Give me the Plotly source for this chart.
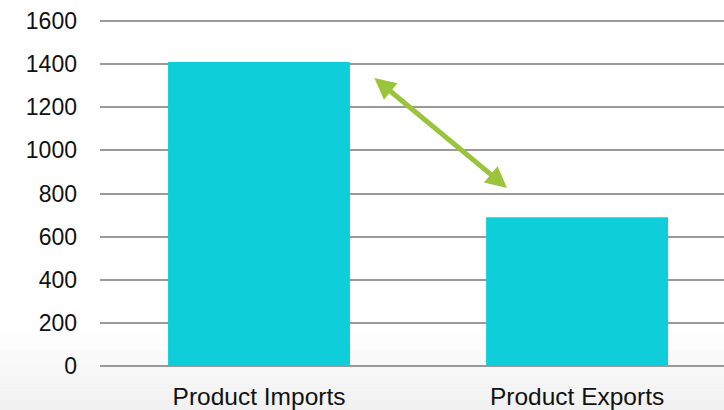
import plotly.graph_objects as go

# Trade values by category
categories = ["Product Imports", "Product Exports"]
values = [1410, 690]
y_ticks = [0, 200, 400, 600, 800, 1000, 1200, 1400, 1600]

BAR_COLOR = "#0ECFD9"
ARROW_COLOR = "#9BC43C"
GRID_COLOR = "#9a9a9a"
FONT = "Liberation Sans"

fig = go.Figure(
    go.Bar(
        x=categories,
        y=values,
        marker=dict(color=BAR_COLOR, line=dict(width=0)),
        hoverinfo="x+y",
    )
)

# Soft grey fade along the bottom of the slide
bands = 12
top_px, bottom_px, plot_bottom_px, plot_h = 330, 410, 365.5, 345
for i in range(bands):
    y0 = (plot_bottom_px - (top_px + (bottom_px - top_px) * i / bands)) / plot_h
    y1 = (plot_bottom_px - (top_px + (bottom_px - top_px) * (i + 1) / bands)) / plot_h
    g = int(255 - (255 - 241) * (i + 0.5) / bands)
    fig.add_shape(
        type="rect", xref="paper", yref="paper",
        x0=-0.2, x1=1.2, y0=y0, y1=y1,
        fillcolor=f"rgb({g},{g},{g})", line=dict(width=0), layer="below",
    )

# Double-headed arrow highlighting the gap between imports and exports
fig.add_annotation(
    x=0.78, y=826, xref="x", yref="y",
    ax=0.358, ay=1342, axref="x", ayref="y",
    text="", showarrow=True,
    arrowhead=2, startarrowhead=2, arrowside="end+start",
    arrowsize=0.85, startarrowsize=0.85, arrowwidth=5,
    arrowcolor=ARROW_COLOR,
)

fig.update_layout(
    width=724, height=410,
    margin=dict(l=100, r=0, t=20, b=44),
    paper_bgcolor="white",
    plot_bgcolor="rgba(0,0,0,0)",
    bargap=0.428,
    showlegend=False,
    font=dict(family=FONT, size=23, color="#111111"),
)
fig.update_xaxes(
    range=[-0.5, 1.462],
    showgrid=False, showline=False, zeroline=False,
    ticks="", tickfont=dict(size=24.5, family=FONT),
    ticklabelstandoff=13,
)
fig.update_yaxes(
    range=[0, 1605],
    tickvals=y_ticks,
    showgrid=True, gridcolor=GRID_COLOR, gridwidth=1.6,
    zeroline=True, zerolinecolor=GRID_COLOR, zerolinewidth=1.6,
    showline=False, ticks="",
    tickfont=dict(size=23, family=FONT),
    ticklabelstandoff=22,
)

fig.write_html("out.html")
